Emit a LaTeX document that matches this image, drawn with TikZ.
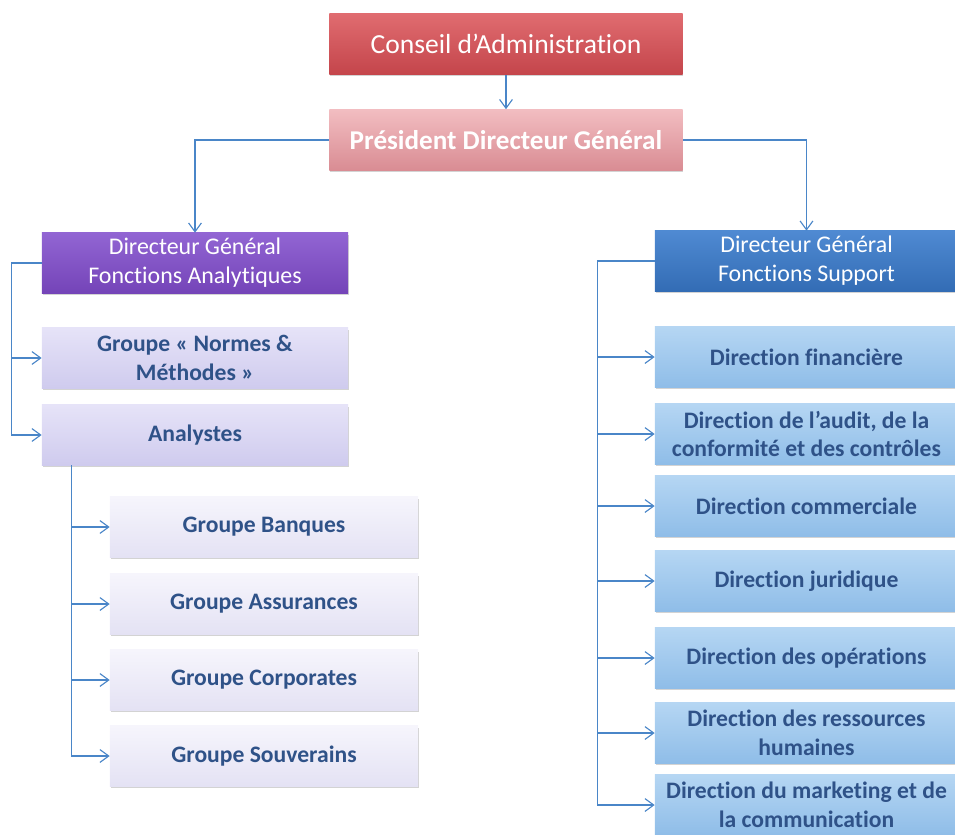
\documentclass[tikz,border=0pt]{standalone}
\usepackage{fontspec}
\setmainfont{Carlito}[Ligatures=NoCommon]
\usetikzlibrary{arrows.meta, positioning, calc, shadows}

\definecolor{redtop}{HTML}{E06C70}
\definecolor{redbot}{HTML}{C4454B}
\definecolor{pinktop}{HTML}{F2BDC1}
\definecolor{pinkbot}{HTML}{D98C93}
\definecolor{purtop}{HTML}{9265D3}
\definecolor{purbot}{HTML}{7444B8}
\definecolor{bluetop}{HTML}{4F8AD2}
\definecolor{bluebot}{HTML}{336CB5}
\definecolor{lavtop}{HTML}{E6E3F8}
\definecolor{lavbot}{HTML}{CFCBEE}
\definecolor{paletop}{HTML}{F6F5FC}
\definecolor{palebot}{HTML}{E4E2F4}
\definecolor{skytop}{HTML}{B5D6F3}
\definecolor{skybot}{HTML}{8FBDE8}
\definecolor{textblue}{HTML}{2F5288}
\definecolor{linkblue}{HTML}{4A86C8}

\begin{document}
\begin{tikzpicture}[x=0.025cm, y=-0.025cm,
    box/.style={rectangle, align=center, inner sep=2pt, minimum height=1.5cm,
        drop shadow={opacity=0.35, shadow xshift=0.6pt, shadow yshift=-1.2pt}},
    topbox/.style={box, minimum width=8.825cm, minimum height=1.525cm, text=white},
    dgbox/.style={box, text=white, font=\fontsize{17}{20.5}\selectfont},
    subbox/.style={box, text=textblue, font=\bfseries\fontsize{16.8}{20.5}\selectfont},
    link/.style={draw=linkblue, thick, -{Straight Barb[length=2.2mm, width=3.2mm]}}]
    \useasboundingbox (0,0) rectangle (955,835);

    % Top of the chart
    \node[topbox, top color=redtop, bottom color=redbot, font=\fontsize{19.6}{22}\selectfont] (conseil) at (506,44) {Conseil d'Administration};
    \node[topbox, top color=pinktop, bottom color=pinkbot, font=\bfseries\fontsize{19.3}{22}\selectfont] (pdg) at (506,140) {Président Directeur Général};

    % Directeurs generaux
    \node[dgbox, minimum width=7.65cm, top color=purtop, bottom color=purbot] (dga) at (195,263) {Directeur Général\\Fonctions Analytiques};
    \node[dgbox, minimum width=7.575cm, top color=bluetop, bottom color=bluebot] (dgs) at (806.5,261) {Directeur Général\\Fonctions Support};

    % Fonctions analytiques
    \node[subbox, minimum width=7.65cm, top color=lavtop, bottom color=lavbot] (normes) at (195,358) {Groupe « Normes \&\\Méthodes »};
    \node[subbox, minimum width=7.65cm, top color=lavtop, bottom color=lavbot] (analystes) at (195,435) {Analystes};

    \node[subbox, minimum width=7.7cm, top color=paletop, bottom color=palebot] (banques) at (264,527) {Groupe Banques};
    \node[subbox, minimum width=7.7cm, top color=paletop, bottom color=palebot] (assurances) at (264,604) {Groupe Assurances};
    \node[subbox, minimum width=7.7cm, top color=paletop, bottom color=palebot] (corporates) at (264,680) {Groupe Corporates};
    \node[subbox, minimum width=7.7cm, top color=paletop, bottom color=palebot] (souverains) at (264,756) {Groupe Souverains};

    % Fonctions support
    \node[subbox, minimum width=7.575cm, top color=skytop, bottom color=skybot] (financiere) at (806.5,357) {Direction financière};
    \node[subbox, minimum width=7.575cm, top color=skytop, bottom color=skybot] (audit) at (806.5,434) {Direction de l'audit, de la\\conformité et des contrôles};
    \node[subbox, minimum width=7.575cm, top color=skytop, bottom color=skybot] (commerciale) at (806.5,506) {Direction commerciale};
    \node[subbox, minimum width=7.575cm, top color=skytop, bottom color=skybot] (juridique) at (806.5,581) {Direction juridique};
    \node[subbox, minimum width=7.575cm, top color=skytop, bottom color=skybot] (operations) at (806.5,658) {Direction des opérations};
    \node[subbox, minimum width=7.575cm, top color=skytop, bottom color=skybot] (rh) at (806.5,733) {Direction des ressources\\humaines};
    \node[subbox, minimum width=7.575cm, top color=skytop, bottom color=skybot] (marketing) at (806.5,805) {Direction du marketing et de\\la communication};

    % Liens
    \draw[link] (conseil.south) -- (pdg.north);
    \draw[link] (pdg.west) -| (dga.north);
    \draw[link] (pdg.east) -| (dgs.north);

    \draw[link] (dga.west) -- ++(-30,0) |- (normes.west);
    \draw[link] (dga.west) -- ++(-30,0) |- (analystes.west);

    \coordinate (tronc) at ($(analystes.south west)+(30,0)$);
    \draw[link] (tronc) |- (banques.west);
    \draw[link] (tronc) |- (assurances.west);
    \draw[link] (tronc) |- (corporates.west);
    \draw[link] (tronc) |- (souverains.west);

    \draw[link] (dgs.west) -- ++(-57,0) |- (financiere.west);
    \draw[link] (dgs.west) -- ++(-57,0) |- (audit.west);
    \draw[link] (dgs.west) -- ++(-57,0) |- (commerciale.west);
    \draw[link] (dgs.west) -- ++(-57,0) |- (juridique.west);
    \draw[link] (dgs.west) -- ++(-57,0) |- (operations.west);
    \draw[link] (dgs.west) -- ++(-57,0) |- (rh.west);
    \draw[link] (dgs.west) -- ++(-57,0) |- (marketing.west);
\end{tikzpicture}
\end{document}
